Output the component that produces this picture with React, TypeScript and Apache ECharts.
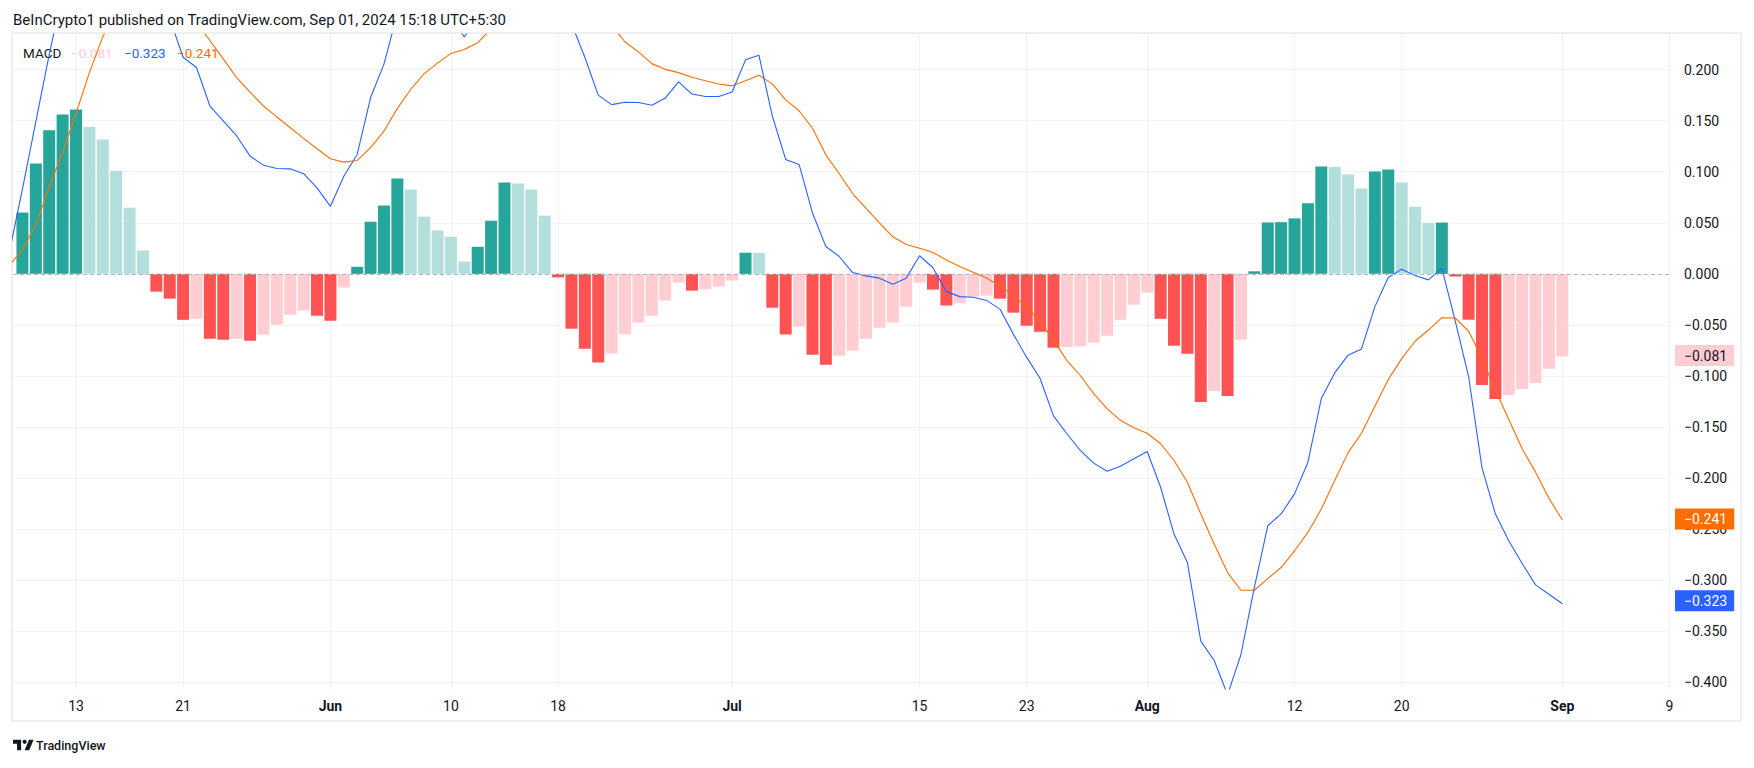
import React, { useEffect, useRef } from "react";
import * as echarts from "echarts";

// ---------- data ----------
const firstDay = "2024-05-08"; // first daily value (left of the visible window)

const histogram: number[] = [
  0.012, 0.06, 0.108, 0.1405, 0.156, 0.161, 0.1437, 0.1316, 0.101, 0.0648,
  0.0229, -0.0174, -0.0243, -0.045, -0.044, -0.0636, -0.0645, -0.0636, -0.0655, -0.0596,
  -0.0498, -0.04, -0.036, -0.041, -0.0459, -0.0134, 0.0069, 0.051, 0.0668, 0.0933,
  0.0825, 0.056, 0.0425, 0.0363, 0.0121, 0.0265, 0.052, 0.0894, 0.0884, 0.0825,
  0.057, -0.0035, -0.0537, -0.0733, -0.0867, -0.0779, -0.0593, -0.0478, -0.041, -0.0262,
  -0.0085, -0.0164, -0.0151, -0.0125, -0.0066, 0.0207, 0.0205, -0.0331, -0.0593, -0.0517,
  -0.0793, -0.0891, -0.0802, -0.0753, -0.0636, -0.0527, -0.0478, -0.0321, -0.0085, -0.0154,
  -0.031, -0.0288, -0.0223, -0.0213, -0.0243, -0.038, -0.0508, -0.0567, -0.0724, -0.0716,
  -0.0712, -0.0675, -0.0606, -0.0449, -0.0302, -0.0184, -0.044, -0.0705, -0.0783, -0.1255,
  -0.1146, -0.1195, -0.0645, 0.0025, 0.0503, 0.0506, 0.0543, 0.069, 0.1052, 0.1049,
  0.0972, 0.0835, 0.1002, 0.1022, 0.0894, 0.0658, 0.0499, 0.0502, -0.0026, -0.0449,
  -0.1087, -0.1225, -0.1186, -0.1127, -0.1068, -0.093, -0.081,
];

const macdLine: number[] = [
  0.02, 0.083, 0.149, 0.2146, 0.275, 0.318, 0.341, 0.364, 0.359, 0.337,
  0.302, 0.263, 0.25, 0.212, 0.202, 0.1643, 0.1497, 0.135, 0.1152, 0.1064,
  0.1031, 0.1028, 0.098, 0.0842, 0.0661, 0.0956, 0.1169, 0.1726, 0.2053, 0.255,
  0.263, 0.252, 0.249, 0.252, 0.2318, 0.2527, 0.292, 0.347, 0.364, 0.374,
  0.358, 0.2995, 0.245, 0.212, 0.175, 0.1657, 0.168, 0.1677, 0.165, 0.172,
  0.188, 0.176, 0.1736, 0.1736, 0.178, 0.2095, 0.2141, 0.1545, 0.112, 0.1071,
  0.0596, 0.0268, 0.017, 0.0013, -0.002, -0.0042, -0.0101, -0.0042, 0.0177, 0.006,
  -0.0174, -0.0223, -0.0229, -0.026, -0.0345, -0.059, -0.0818, -0.1025, -0.139, -0.1565,
  -0.1729, -0.1853, -0.1932, -0.1883, -0.181, -0.1739, -0.2089, -0.2547, -0.2826, -0.3595,
  -0.3785, -0.412, -0.3726, -0.307, -0.2466, -0.235, -0.2154, -0.1844, -0.1221, -0.097,
  -0.0796, -0.0735, -0.0321, -0.0036, 0.0046, -0.0017, -0.0059, 0.0056, -0.046, -0.1005,
  -0.19, -0.235, -0.2613, -0.2836, -0.3045, -0.3137, -0.323,
];

const signalLine: number[] = [
  0.008, 0.0235, 0.048, 0.085, 0.119, 0.157, 0.197, 0.232, 0.258, 0.272,
  0.279, 0.28, 0.274, 0.257, 0.246, 0.2284, 0.2104, 0.192, 0.178, 0.1643,
  0.1536, 0.143, 0.1326, 0.1225, 0.1127, 0.1094, 0.111, 0.1235, 0.1398, 0.162,
  0.1807, 0.196, 0.2063, 0.2158, 0.2197, 0.2262, 0.24, 0.258, 0.276, 0.291,
  0.301, 0.303, 0.298, 0.285, 0.262, 0.2436, 0.227, 0.2173, 0.2058, 0.2002,
  0.197, 0.1925, 0.189, 0.1859, 0.184, 0.189, 0.1945, 0.186, 0.1703, 0.1597,
  0.1425, 0.1165, 0.098, 0.0786, 0.064, 0.05, 0.0363, 0.0287, 0.025, 0.021,
  0.0135, 0.0072, 0.0015, -0.004, -0.0118, -0.0215, -0.032, -0.047, -0.0646, -0.085,
  -0.0995, -0.1172, -0.132, -0.1434, -0.1506, -0.156, -0.1663, -0.1827, -0.204, -0.235,
  -0.2645, -0.2924, -0.3097, -0.3097, -0.2983, -0.2875, -0.2711, -0.2531, -0.2301, -0.2024,
  -0.175, -0.156, -0.1295, -0.1035, -0.083, -0.066, -0.055, -0.0429, -0.0432, -0.056,
  -0.083, -0.114, -0.1425, -0.1712, -0.1941, -0.2197, -0.241,
];

const tickDates = [
  "2024-05-13", "2024-05-21", "2024-06-01", "2024-06-10", "2024-06-18", "2024-07-01",
  "2024-07-15", "2024-07-23", "2024-08-01", "2024-08-12", "2024-08-20", "2024-09-01", "2024-09-09",
];
const tickLabels = ["13", "21", "Jun", "10", "18", "Jul", "15", "23", "Aug", "12", "20", "Sep", "9"];
const yTicks = [0.2, 0.15, 0.1, 0.05, 0, -0.05, -0.1, -0.15, -0.2, -0.25, -0.3, -0.35, -0.4];

const titleText = "BeInCrypto1 published on TradingView.com, Sep 01, 2024 15:18 UTC+5:30";
const indicatorName = "MACD";

// ---------- helpers ----------
const FONT = "Roboto, 'Noto Sans', sans-serif";
const TEXT = "#131722";
const C_UP = "#26A69A";
const C_UP_FADE = "#B2DFDB";
const C_DN = "#FF5252";
const C_DN_FADE = "#FFCDD2";
const C_MACD = "#2962FF";
const C_SIGNAL = "#FF6D00";
const GRID = "#F0F3FA";

const X_MIN = -4.705;
const X_MAX = 119.04;

const DAY = 86400000;
const anchor = Date.UTC(2024, 4, 13);
const dayOffset = (iso: string) => {
  const [y, m, d] = iso.split("-").map(Number);
  return (Date.UTC(y, m - 1, d) - anchor) / DAY;
};
const start = dayOffset(firstDay);
const xs = histogram.map((_, i) => start + i);
const tickOffsets = tickDates.map(dayOffset);

const fmt = (v: number) => (v < 0 ? "\u2212" : "") + Math.abs(v).toFixed(3);

const barColor = (i: number) => {
  const v = histogram[i];
  const prev = i > 0 ? histogram[i - 1] : -Infinity;
  const rising = v > prev;
  if (v >= 0) return rising ? C_UP : C_UP_FADE;
  return rising ? C_DN_FADE : C_DN;
};

const last = histogram.length - 1;

const priceTag = (value: number, bg: string, fg: string) => ({
  yAxis: value,
  lineStyle: { color: "rgba(0,0,0,0)", width: 0 },
  label: {
    show: true,
    position: "end",
    distance: 5,
    formatter: fmt(value),
    backgroundColor: bg,
    color: fg,
    opacity: 1,
    fontFamily: FONT,
    fontSize: 14,
    lineHeight: 14,
    padding: [4, 7, 3, 9],
  },
});

export default function App() {
  const ref = useRef<HTMLDivElement>(null);

  useEffect(() => {
    if (!ref.current) return;
    const chart = echarts.init(ref.current, undefined, { renderer: "svg" });

    const s = 0.58;
    const ox = 13;
    const oy = 745 - 13 * s;
    const P = (pts: number[][]) => pts.map(([x, y]) => [ox + x * s, oy + y * s]);

    const legendItems = [
      { text: fmt(histogram[last]), color: C_DN_FADE, x: 71 },
      { text: fmt(macdLine[last]), color: C_MACD, x: 124 },
      { text: fmt(signalLine[last]), color: C_SIGNAL, x: 177 },
    ];

    const barData = histogram
      .map((v, i) => ({ value: [xs[i], v], itemStyle: { color: barColor(i) } }))
      .filter((d) => d.value[0] >= X_MIN);

    chart.setOption({
      animation: false,
      backgroundColor: "#ffffff",
      textStyle: { fontFamily: FONT },
      grid: { left: 13, right: 84, top: 34, bottom: 79, containLabel: false },
      xAxis: {
        type: "value",
        min: X_MIN,
        max: X_MAX,
        axisLine: { show: false },
        axisTick: { show: false, customValues: tickOffsets },
        splitLine: { show: true, lineStyle: { color: GRID, width: 1 } },
        axisLabel: {
          customValues: tickOffsets,
          margin: 10,
          fontSize: 14,
          color: TEXT,
          fontFamily: FONT,
          formatter: (v: number) => {
            const i = tickOffsets.findIndex((t) => Math.abs(t - v) < 0.01);
            const lab = i >= 0 ? tickLabels[i] : "";
            return /^[A-Z]/.test(lab) ? `{b|${lab}}` : lab;
          },
          rich: { b: { fontWeight: "bold", fontSize: 14, color: TEXT, fontFamily: FONT } },
        },
      },
      yAxis: {
        type: "value",
        position: "right",
        min: -0.4064,
        max: 0.2348,
        axisLine: { show: false },
        axisTick: { show: false, customValues: yTicks },
        splitLine: { show: true, lineStyle: { color: GRID, width: 1 } },
        axisLabel: {
          customValues: yTicks,
          margin: 14,
          fontSize: 14,
          color: TEXT,
          fontFamily: FONT,
          formatter: (v: number) => fmt(v),
        },
      },
      series: [
        {
          type: "bar",
          name: "Histogram",
          barWidth: 12,
          z: 2,
          data: barData,
          markLine: {
            silent: true,
            symbol: ["none", "none"],
            animation: false,
            data: [
              {
                yAxis: 0,
                lineStyle: { color: "#B2B5BE", width: 1, type: [4, 3] },
                label: { show: false },
              },
              priceTag(histogram[last], C_DN_FADE, TEXT),
            ],
          },
        },
        {
          type: "line",
          name: "MACD",
          z: 4,
          showSymbol: false,
          symbol: "none",
          lineStyle: { color: C_MACD, width: 1.1 },
          data: macdLine.map((v, i) => [xs[i], v]),
          markLine: {
            silent: true,
            symbol: ["none", "none"],
            animation: false,
            data: [priceTag(macdLine[last], C_MACD, "#ffffff")],
          },
        },
        {
          type: "line",
          name: "Signal",
          z: 3,
          showSymbol: false,
          symbol: "none",
          lineStyle: { color: C_SIGNAL, width: 1.1 },
          data: signalLine.map((v, i) => [xs[i], v]),
          markLine: {
            silent: true,
            symbol: ["none", "none"],
            animation: false,
            data: [priceTag(signalLine[last], C_SIGNAL, "#ffffff")],
          },
        },
      ],
      graphic: [
        {
          type: "rect",
          silent: true,
          z: -10,
          shape: { x: 12, y: 33, width: 1729, height: 688 },
          style: { fill: "none", stroke: "#E9ECF1", lineWidth: 1.5 },
        },
        {
          type: "text",
          x: 13,
          y: 20,
          style: {
            text: titleText,
            fill: TEXT,
            font: `15px ${FONT}`,
            verticalAlign: "middle",
          },
        },
        {
          type: "text",
          x: 23,
          y: 53,
          style: { text: indicatorName, fill: TEXT, font: `13.5px ${FONT}`, verticalAlign: "middle" },
        },
        ...legendItems.map((it) => ({
          type: "text",
          x: it.x,
          y: 53,
          style: { text: it.text, fill: it.color, font: `13.5px ${FONT}`, verticalAlign: "middle" },
        })),
        {
          type: "polygon",
          silent: true,
          shape: { points: P([[0, 4], [14, 4], [14, 22], [7, 22], [7, 11], [0, 11]]) },
          style: { fill: TEXT },
        },
        {
          type: "polygon",
          silent: true,
          shape: { points: P([[20, 22], [27.5, 4], [35.5, 4], [28, 22]]) },
          style: { fill: TEXT },
        },
        {
          type: "circle",
          silent: true,
          shape: { cx: ox + 20 * s, cy: oy + 7.5 * s, r: 3.6 * s },
          style: { fill: TEXT },
        },
        {
          type: "text",
          x: 36,
          y: 745,
          style: { text: "TradingView", fill: TEXT, font: `500 12.5px ${FONT}`, verticalAlign: "middle" },
        },
      ],
    });

    return () => chart.dispose();
  }, []);

  return (
    <div
      ref={ref}
      style={{ position: "absolute", left: 0, top: 0, width: 1754, height: 768, background: "#fff" }}
    />
  );
}
